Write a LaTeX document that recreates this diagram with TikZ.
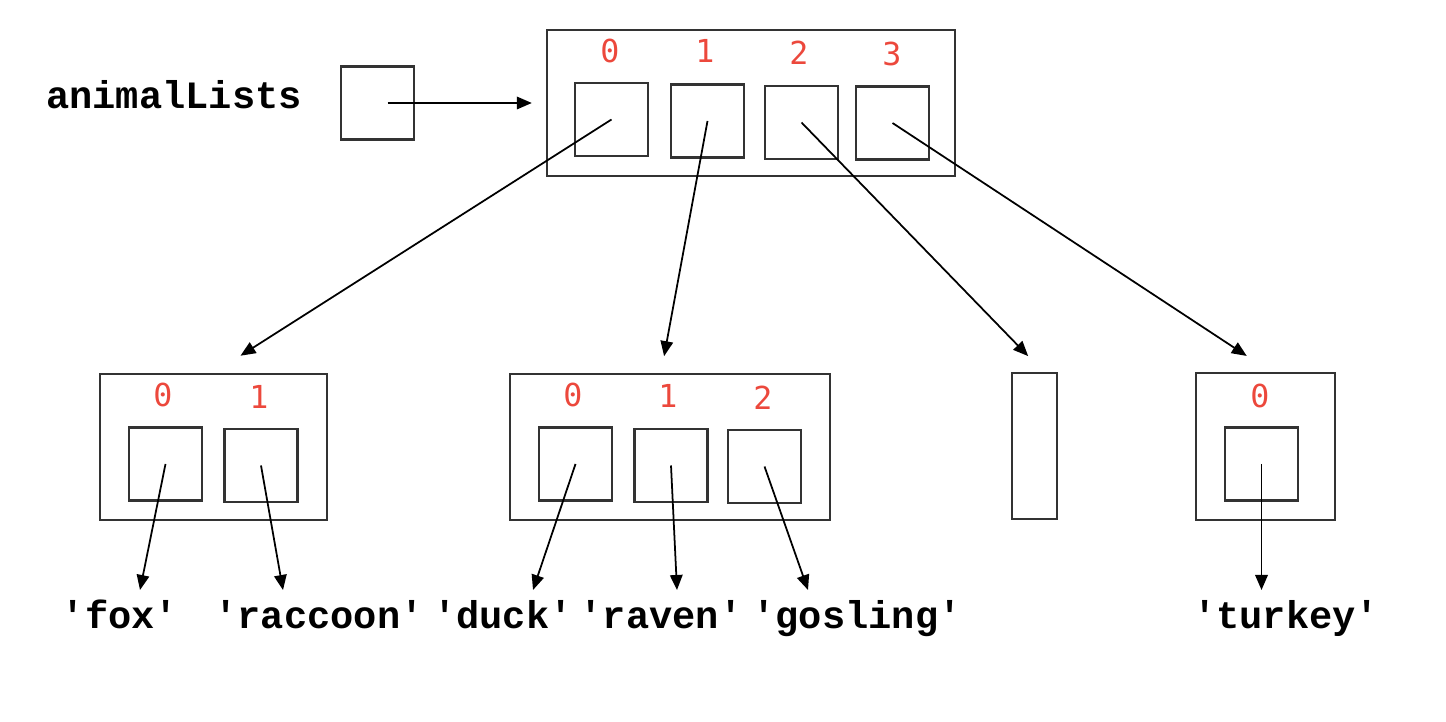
\documentclass[tikz,border=0pt]{standalone}
\usepackage{fontspec}
\setmonofont{Liberation Mono}
\newfontfamily\idxfont{DejaVu Sans Mono}
\usetikzlibrary{arrows.meta}
\definecolor{idxred}{RGB}{236,72,60}
\newcommand{\quoted}[1]{\textquotesingle#1\textquotesingle}

\begin{document}
\begin{tikzpicture}[x=0.01cm,y=-0.01cm]
		\tikzset{
			cell/.style ={
				rectangle, %方形节点
				minimum width =0.73cm, %最小宽度
				minimum height =0.73cm, %最小高度
				inner sep=0pt, %文字和边框的距离
				draw=black!80, %边框颜色
				line width=0.6pt
			},
			arr/.style ={rectangle, inner sep=0pt, draw=black!80, line width=0.6pt},
			idx/.style ={text=idxred, font=\idxfont\fontsize{9}{11}\selectfont, inner sep=0pt},
			val/.style ={font=\ttfamily\bfseries\fontsize{11}{13}\selectfont, inner sep=0pt, anchor=base},
			ptr/.style ={-{Triangle[length=1.5mm,width=1.25mm]}, line width=0.5pt}
		}
		\useasboundingbox (0,0) rectangle (1446,722);
		% 变量
		\node[val] (name) at (174,109) {animalLists};
		\node[cell] (v) at (377.5,103) {};
		% 外层列表
		\node[arr, minimum width=4.08cm, minimum height=1.46cm] (top) at (751,103) {};
		\node[cell] (t0) at (611.5,119.5) {};
		\node[cell] (t1) at (707.5,121) {};
		\node[cell] (t2) at (801.5,122.5) {};
		\node[cell] (t3) at (892.5,123) {};
		\node[idx] (i0) at (610,51) {0};
		\node[idx] (i1) at (705,51) {1};
		\node[idx] (i2) at (799,53) {2};
		\node[idx] (i3) at (892,54) {3};
		% 内层列表
		\node[arr, minimum width=2.27cm, minimum height=1.46cm] (A) at (213.5,447) {};
		\node[cell] (a0) at (165.5,464) {};
		\node[cell] (a1) at (261,465.5) {};
		\node[idx] (ai0) at (163,395) {0};
		\node[idx] (ai1) at (259,397) {1};
		\node[arr, minimum width=3.20cm, minimum height=1.46cm] (B) at (670,447) {};
		\node[cell] (b0) at (575.5,464) {};
		\node[cell] (b1) at (671,465.5) {};
		\node[cell] (b2) at (764.5,466.5) {};
		\node[idx] (bi0) at (573,395) {0};
		\node[idx] (bi1) at (668,396) {1};
		\node[idx] (bi2) at (763,398) {2};
		\node[arr, minimum width=0.45cm, minimum height=1.46cm] (C) at (1034.5,446) {};
		\node[arr, minimum width=1.39cm, minimum height=1.47cm] (D) at (1265.5,446.5) {};
		\node[cell] (d0) at (1261.5,464) {};
		\node[idx] (di0) at (1260,396) {0};
		% 字符串
		\node[val] (fox) at (120,628) {\quoted{fox}};
		\node[val] (raccoon) at (319,628) {\quoted{raccoon}};
		\node[val] (duck) at (503,628) {\quoted{duck}};
		\node[val] (raven) at (661,628) {\quoted{raven}};
		\node[val] (gosling) at (857,628) {\quoted{gosling}};
		\node[val] (turkey) at (1286,628) {\quoted{turkey}};
		\coordinate (foxtip) at (140,590);
		\coordinate (raccoontip) at (283,590);
		\coordinate (ducktip) at (533,590);
		\coordinate (raventip) at (677,590);
		\coordinate (goslingtip) at (808,590);
		\coordinate (turkeytip) at (1261.5,590);
		% 指针
		\draw[ptr, shorten >=0.14cm] ([xshift=0.1cm]v.center)--(top.west);
		\draw[ptr, shorten >=0.32cm] (t0.center)--(A.north);
		\draw[ptr, shorten >=0.17cm] (t1.center)--([xshift=-0.09cm]B.north);
		\draw[ptr, shorten >=0.22cm] (t2.center)--([xshift=0.09cm]C.north);
		\draw[ptr, shorten >=0.29cm] (t3.center)--([xshift=0.055cm]D.north);
		\draw[ptr] (a0.center)--(foxtip);
		\draw[ptr] (a1.center)--(raccoontip);
		\draw[ptr] (b0.center)--(ducktip);
		\draw[ptr] (b1.center)--(raventip);
		\draw[ptr] (b2.center)--(goslingtip);
		\draw[ptr] (d0.center)--(turkeytip);
	\end{tikzpicture}
\end{document}
